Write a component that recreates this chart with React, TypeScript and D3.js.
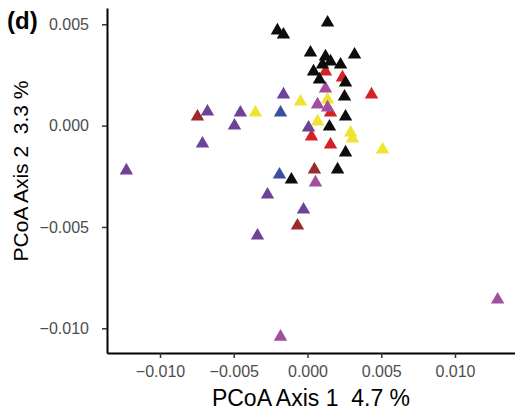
import React, { useEffect, useRef } from 'react';
import * as d3 from 'd3';

// PCoA scores, one array per group colour: [axis1, axis2]
const blackPts: [number, number][] = [
  [-0.00204, 0.00469], [-0.00163, 0.00449], [0.00136, 0.00508], [0.0002, 0.0036],
  [0.00122, 0.00341], [0.00156, 0.00316], [0.00102, 0.00301], [0.00319, 0.0035],
  [0.00224, 0.00301], [0.00041, 0.00267], [0.00081, 0.00227], [0.00258, 0.00212],
  [0.00251, 0.00143], [0.00258, 0.00044], [0.00149, -0.00005], [0.00258, -0.00133],
  [0.00204, -0.00217], [-0.00109, -0.00267],
];
const redPts: [number, number][] = [
  [0.00122, 0.00267], [0.00237, 0.00237], [0.00434, 0.00153], [0.00156, 0.00064],
  [0.00027, -0.00054], [0.00156, -0.00094],
];
const darkRedPts: [number, number][] = [
  [-0.00746, 0.00044], [0.00047, -0.00217], [-0.00068, -0.00494],
];
const yellowPts: [number, number][] = [
  [-0.00353, 0.00064], [-0.00047, 0.00118], [0.00136, 0.00128], [0.00068, 0.0002],
  [0.00292, -0.00035], [0.00305, -0.00064], [0.00509, -0.00118],
];
const purplePts: [number, number][] = [
  [-0.00678, 0.00069], [-0.00455, 0.00064], [-0.00495, 0.0], [-0.00712, -0.00089],
  [-0.01228, -0.00222], [-0.00163, 0.00153], [0.00007, -0.0001], [-0.00271, -0.00341],
  [-0.00027, -0.00415], [-0.00339, -0.00543],
];
const magentaPts: [number, number][] = [
  [0.00122, 0.00183], [0.00068, 0.00104], [0.00136, 0.00089], [0.00054, -0.00281],
  [-0.00183, -0.01042], [0.01289, -0.00859],
];
const bluePts: [number, number][] = [
  [-0.00183, 0.00064], [-0.0019, -0.00242],
];

const xTicks = [-0.01, -0.005, 0, 0.005, 0.01];
const yTicks = [0.005, 0, -0.005, -0.01];
const xDomain: [number, number] = [-0.013593, 0.014068];
const yDomain: [number, number] = [-0.011219, 0.005804];

const groups = [
  { pts: yellowPts, color: '#F0E331' },
  { pts: redPts, color: '#D42229' },
  { pts: darkRedPts, color: '#9C2A2A' },
  { pts: bluePts, color: '#3B4F9E' },
  { pts: purplePts, color: '#6D4397' },
  { pts: magentaPts, color: '#A04E9D' },
  { pts: blackPts, color: '#0d0d0d' },
];

const W = 515, H = 410;
const margin = { top: 8, right: 0, bottom: 57, left: 107 };

const fmt = (v: number) => (v < 0 ? '\u2212' : '') + Math.abs(v).toFixed(3);

const drawChart = (node: SVGSVGElement) => {
  const svg = d3.select(node);
  svg.selectAll('*').remove();

  const x = d3.scaleLinear().domain(xDomain).range([margin.left, W - margin.right]);
  const y = d3.scaleLinear().domain(yDomain).range([H - margin.bottom, margin.top]);
  const font = 'Liberation Sans, Arial, Helvetica, sans-serif';

  const tri = d3.symbol().type(d3.symbolTriangle).size(78);
  groups.forEach(g => {
    svg.append('g').selectAll('path')
      .data(g.pts)
      .enter().append('path')
      .attr('d', tri)
      .attr('transform', d => `translate(${x(d[0])},${y(d[1])})`)
      .attr('fill', g.color);
  });

  const xAxis = svg.append('g')
    .attr('transform', `translate(0,${H - margin.bottom})`)
    .call(d3.axisBottom(x).tickValues(xTicks).tickFormat(d => fmt(+d)).tickSize(5).tickPadding(8).tickSizeOuter(0));
  const yAxis = svg.append('g')
    .attr('transform', `translate(${margin.left},0)`)
    .call(d3.axisLeft(y).tickValues(yTicks).tickFormat(d => fmt(+d)).tickSize(5).tickPadding(13).tickSizeOuter(0));

  [xAxis, yAxis].forEach(a => {
    a.select('.domain').attr('stroke', '#000').attr('stroke-width', 2);
    a.selectAll('.tick line').attr('stroke', '#333').attr('stroke-width', 1.5);
    a.selectAll('.tick text').attr('fill', '#4d4d4d').style('font-size', '16px').style('font-family', font);
  });

  svg.append('text')
    .attr('x', (margin.left + W - margin.right) / 2)
    .attr('y', 406)
    .attr('text-anchor', 'middle')
    .style('font-size', '23px')
    .style('font-family', font)
    .style('white-space', 'pre')
    .text('PCoA Axis 1  4.7 %');

  svg.append('text')
    .attr('transform', `translate(28,171) rotate(-90)`)
    .attr('text-anchor', 'middle')
    .style('font-size', '21px')
    .style('font-family', font)
    .style('white-space', 'pre')
    .text('PCoA Axis 2  3.3 %');

  svg.append('text')
    .attr('x', 7)
    .attr('y', 29)
    .style('font-size', '24px')
    .style('font-weight', 'bold')
    .style('font-family', font)
    .text('(d)');
};

const App = () => {
  const ref = useRef<SVGSVGElement>(null);
  useEffect(() => {
    if (ref.current) drawChart(ref.current);
  }, []);
  return (
    <div style={{ position: 'absolute', top: 0, left: 0 }}>
      <svg ref={ref} width={W} height={H} style={{ display: 'block', background: '#fff' }} />
    </div>
  );
};

export default App;
